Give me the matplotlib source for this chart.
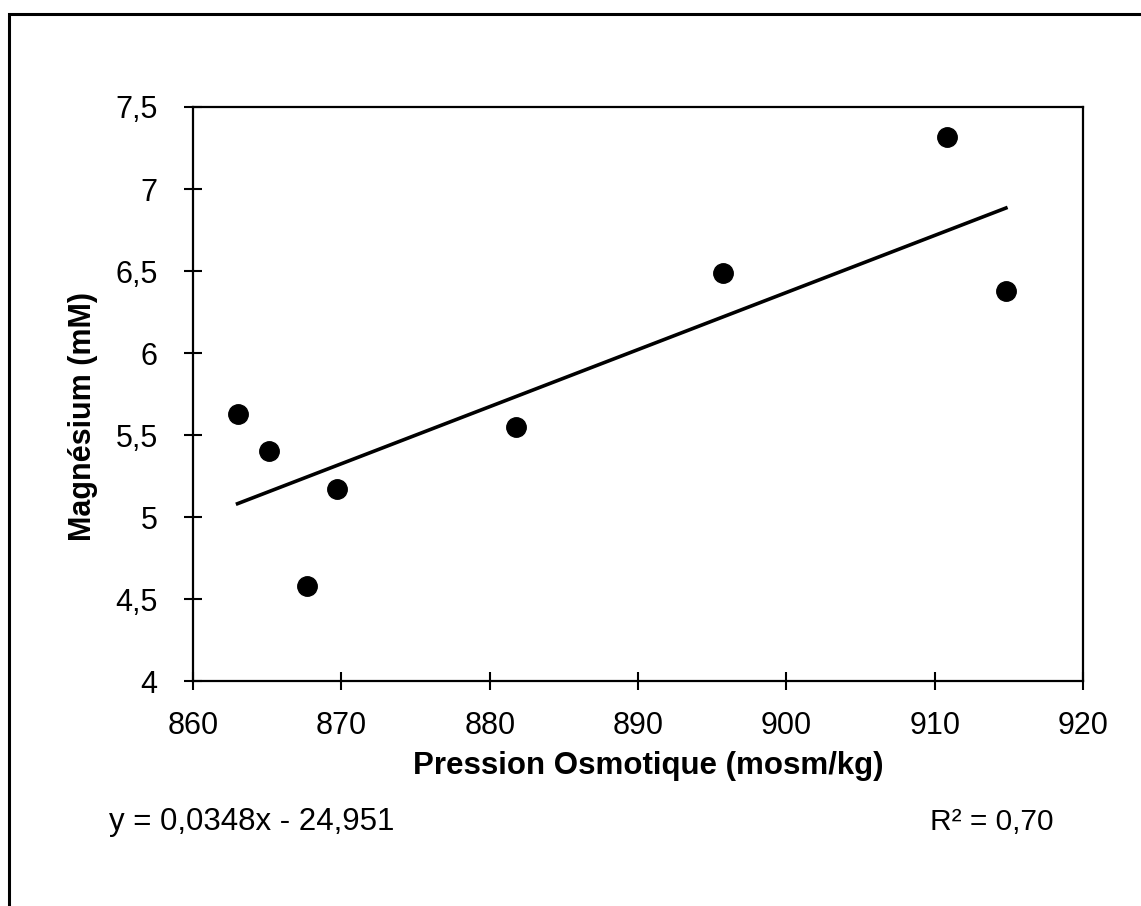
import matplotlib
matplotlib.use('Agg')
import matplotlib.pyplot as plt
from matplotlib.patches import Rectangle
import numpy as np

plt.rcParams['font.family'] = ['Liberation Sans', 'DejaVu Sans']

# Osmotic pressure (mosm/kg) and magnesium concentration (mM)
pression = [863.0, 865.1, 867.7, 869.7, 881.8, 895.7, 910.8, 914.8]
magnesium = [5.63, 5.40, 4.58, 5.17, 5.55, 6.49, 7.32, 6.38]

# Linear regression reported with the chart
slope = 0.0348
intercept = -24.951
r2_label = '0,70'

x_ticks = [860, 870, 880, 890, 900, 910, 920]
y_ticks = [4, 4.5, 5, 5.5, 6, 6.5, 7, 7.5]

def fr(v):
    # French decimal comma
    return ('%g' % v).replace('.', ',')

fig = plt.figure(figsize=(11.41, 9.06), dpi=100)

# Outer frame around the whole chart area
fig.patches.append(Rectangle((9 / 1141, -0.05), 1.2, 1 - 14 / 906 + 0.05,
                             transform=fig.transFigure, fill=False,
                             edgecolor='black', linewidth=2.2))

ax = fig.add_axes([0.1692, 0.2483, 0.78, 0.6336])

ax.plot(pression, magnesium, 'o', color='black', markersize=14, zorder=3,
        clip_on=False)

# Trend line over the range of the data
xl = np.array([min(pression), max(pression)])
ax.plot(xl, slope * xl + intercept, color='black', linewidth=2.6, zorder=2)

ax.set_xlim(860, 920)
ax.set_ylim(4, 7.5)
ax.set_xticks(x_ticks)
ax.set_yticks(y_ticks)
ax.set_xticklabels([fr(v) for v in x_ticks])
ax.set_yticklabels([fr(v) for v in y_ticks])
ax.tick_params(direction='inout', length=13, width=1.5, labelsize=22)
ax.tick_params(axis='x', pad=15)
ax.tick_params(axis='y', pad=19)

for sp in ax.spines.values():
    sp.set_linewidth(1.6)

ax.set_xlabel('Pression Osmotique (mosm/kg)', fontsize=22.5, fontweight='bold')
ax.xaxis.set_label_coords(0.511, -0.122)
ax.set_ylabel('Magnésium (mM)', fontsize=22, fontweight='bold')
ax.yaxis.set_label_coords(-0.107, 0.46)

fig.text(109 / 1141, 1 - 822 / 906,
         'y = %sx - %s' % (fr(slope), fr(-intercept)),
         fontsize=22.5, va='center', ha='left')
fig.text(1053 / 1141, 1 - 822 / 906, 'R² = ' + r2_label,
         fontsize=21.5, va='center', ha='right')

plt.savefig('out.png', dpi=100)
